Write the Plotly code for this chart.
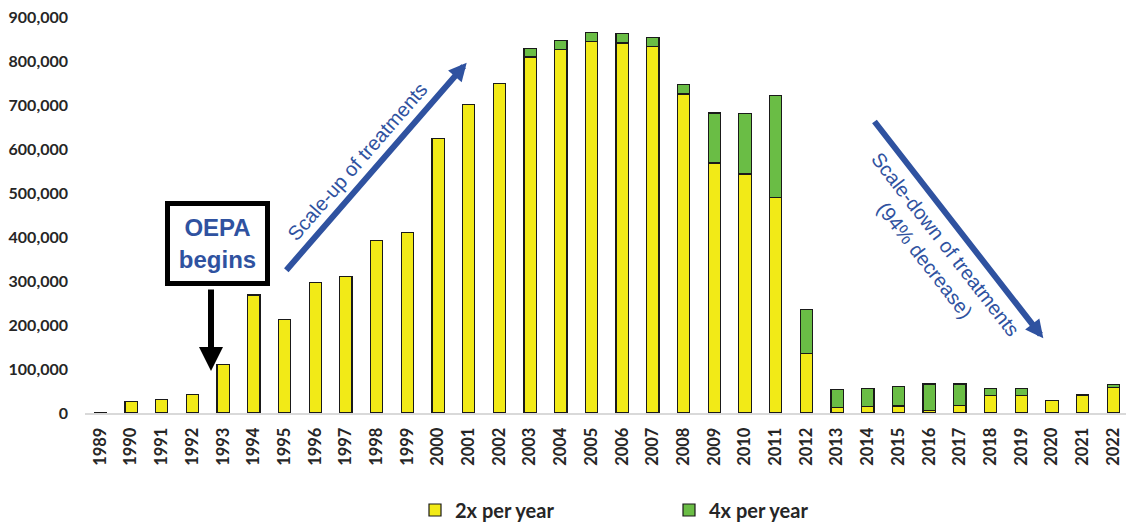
import plotly.graph_objects as go

years = [str(y) for y in range(1989, 2023)]
two_x = [1500, 26000, 30500, 42500, 111000, 268000, 212000, 297000, 311000, 392000,
         410000, 624000, 701000, 749000, 809000, 826000, 845000, 841000, 833000, 725000,
         568000, 543000, 490000, 135000, 13000, 14500, 16000, 5000, 17000, 39000,
         39000, 29000, 41000, 58000]
four_x = [0, 0, 0, 0, 0, 0, 0, 0, 0, 0,
          0, 0, 0, 0, 20000, 21000, 20000, 21000, 20000, 21000,
          114000, 138000, 231000, 101000, 40000, 41500, 45000, 61000, 49000, 16000,
          16000, 0, 0, 7000]
y_ticks = list(range(0, 900001, 100000))

YELLOW = "#F2EA17"
GREEN = "#6ABD45"
BLUE = "#2F52A0"
FONT = "Lato"

# plot area geometry (pixels)
L, T, W_PX, H_PX = 85, 17, 1126 - 85, 522 - 17 - 109
def px(x, y):
    return (x - L) / W_PX, (T + H_PX - y) / H_PX

fig = go.Figure()
fig.add_trace(go.Bar(x=years, y=two_x, name="2x per year",
                     marker=dict(color=YELLOW, line=dict(color="#1a1a1a", width=1.2))))
fig.add_trace(go.Bar(x=years, y=four_x, name="4x per year",
                     marker=dict(color=GREEN, line=dict(color="#1a1a1a", width=1.2))))

annotations = []
# OEPA box
bx, by = px(217.5, 243.5)
annotations.append(dict(xref="paper", yref="paper", x=bx, y=by, showarrow=False,
                        text="<b>OEPA<br>begins</b>", align="center",
                        font=dict(family="Liberation Sans", size=24, color=BLUE),
                        bgcolor="white", bordercolor="black", borderwidth=5,
                        width=95, height=75, borderpad=0, xanchor="center", yanchor="middle"))
# black arrow
hx, hy = px(211, 371)
annotations.append(dict(xref="paper", yref="paper", x=hx, y=hy, ax=0, ay=-(371 - 288),
                        text="", showarrow=True, arrowhead=2, arrowsize=0.8,
                        arrowwidth=6, arrowcolor="black"))
# scale-up arrow
hx, hy = px(466.7, 62.7)
annotations.append(dict(xref="paper", yref="paper", x=hx, y=hy, ax=285 - 466.7, ay=271.7 - 62.7,
                        text="", showarrow=True, arrowhead=2, arrowsize=0.6,
                        arrowwidth=6, arrowcolor=BLUE))
tx, ty = px(357, 162)
annotations.append(dict(xref="paper", yref="paper", x=tx, y=ty, showarrow=False,
                        text="Scale-up of treatments", textangle=-49,
                        xanchor="center", yanchor="middle",
                        font=dict(family="Liberation Sans", size=20, color=BLUE)))
# scale-down arrow
hx, hy = px(1043.3, 338.3)
annotations.append(dict(xref="paper", yref="paper", x=hx, y=hy, ax=873.3 - 1043.3, ay=120 - 338.3,
                        text="", showarrow=True, arrowhead=2, arrowsize=0.6,
                        arrowwidth=6, arrowcolor=BLUE))
tx, ty = px(935, 252)
annotations.append(dict(xref="paper", yref="paper", x=tx, y=ty, showarrow=False,
                        text="Scale-down of treatments<br>(94% decrease)", textangle=52,
                        align="center", xanchor="center", yanchor="middle",
                        font=dict(family="Liberation Sans", size=20, color=BLUE)))

lx, ly = px(415, 510)
fig.update_layout(
    width=1126, height=522,
    barmode="stack", bargap=0.6,
    plot_bgcolor="white", paper_bgcolor="white",
    margin=dict(l=L, r=0, t=T, b=109, autoexpand=False),
    font=dict(family=FONT, color="#262626"),
    xaxis=dict(type="category", range=[-0.5, 33.41], tickangle=-90,
               tickfont=dict(family=FONT, size=16.5, color="#262626", weight="bold"),
               showline=True, linecolor="#D9D9D9", linewidth=2, ticks="",
               showgrid=False, ticklabelstandoff=6),
    yaxis=dict(range=[0, 900000], tickvals=y_ticks, tickformat=",",
               tickfont=dict(family=FONT, size=16, color="#262626", weight="bold"),
               showgrid=False, zeroline=False, showline=False, ticks="",
               ticklabelstandoff=16),
    legend=dict(orientation="h", x=lx, y=ly, xanchor="left", yanchor="middle",
                font=dict(family=FONT, size=20, color="#262626", weight="bold"),
                entrywidth=209, traceorder="normal"),
    annotations=annotations,
)
fig.write_html("out.html", config={"displayModeBar": False},
               post_script="document.body.style.margin='0';document.body.style.overflow='hidden';")
